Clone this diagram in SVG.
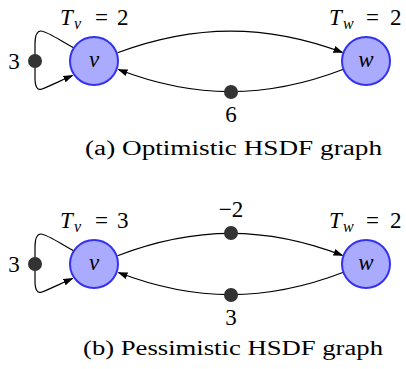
<svg xmlns="http://www.w3.org/2000/svg" width="406" height="369" viewBox="0 0 406 369">
<style>
.node{fill:#aaaaff;stroke:#3333ee;stroke-width:2}
.tok{fill:#333333}
.edge{fill:none;stroke:#000;stroke-width:1.2}
text{font-family:"Liberation Serif","Times New Roman",serif;fill:#000;font-size:23px}
.it{font-style:italic}
.sub{font-style:italic;font-size:16px}
.cap{font-size:20px}
</style>
<defs>
<marker id="arr" markerWidth="10" markerHeight="8" refX="9" refY="4" orient="auto" markerUnits="userSpaceOnUse">
<path d="M0,0.5 L10,4 L0,7.5 Z" fill="#000"/>
</marker>
</defs>
<rect width="406" height="369" fill="#fff"/>
<g id="connectors">
<path class="edge" d="M117.5,52.8 C195,24 266,24 342.5,52.5" marker-end="url(#arr)"/>
<path class="edge" d="M343.5,69.2 C266,99 195,99 118.5,69.5" marker-end="url(#arr)"/>
<path class="edge" d="M74,48 C58,39 46,31 41,31 C37,31 35,36 35,44 L35,78 C35,86 37,91 42,89 C50,86 60,81 72.5,75.5" marker-end="url(#arr)"/>
<path class="edge" d="M117.5,255.8 C195,226 266,226 342.5,255.5" marker-end="url(#arr)"/>
<path class="edge" d="M343.5,272.2 C266,302 195,302 118.5,272.5" marker-end="url(#arr)"/>
<path class="edge" d="M74,251 C58,242 46,234 41,234 C37,234 35,239 35,247 L35,281 C35,289 37,294 42,292 C50,289 60,284 72.5,278.5" marker-end="url(#arr)"/>
</g>
<g id="graph-a">
<g id="a-v"><circle class="node" cx="94" cy="61" r="24"/><text class="it" x="94" y="67" text-anchor="middle">v</text></g>
<g id="a-w"><circle class="node" cx="366" cy="61" r="24"/><text class="it" x="366" y="67" text-anchor="middle">w</text></g>
<g id="a-tv"><text class="it" x="60" y="25">T</text><text class="sub" x="74" y="29">v</text><text x="95" y="25">=</text><text x="117" y="25">2</text></g>
<g id="a-tw"><text class="it" x="329" y="25">T</text><text class="sub" x="343" y="29">w</text><text x="366" y="25">=</text><text x="390" y="25">2</text></g>
<g id="a-loop-tok"><circle class="tok" cx="35" cy="61" r="7"/><text x="14" y="69" text-anchor="middle">3</text></g>
<g id="a-back-tok"><circle class="tok" cx="231" cy="92" r="7"/><text x="231" y="122" text-anchor="middle">6</text></g>
<text class="cap" x="85" y="155" textLength="297" lengthAdjust="spacingAndGlyphs">(a) Optimistic HSDF graph</text>
</g>
<g id="graph-b">
<g id="b-v"><circle class="node" cx="94" cy="264" r="24"/><text class="it" x="94" y="270" text-anchor="middle">v</text></g>
<g id="b-w"><circle class="node" cx="366" cy="264" r="24"/><text class="it" x="366" y="270" text-anchor="middle">w</text></g>
<g id="b-tv"><text class="it" x="60" y="228">T</text><text class="sub" x="74" y="232">v</text><text x="95" y="228">=</text><text x="117" y="228">3</text></g>
<g id="b-tw"><text class="it" x="329" y="228">T</text><text class="sub" x="343" y="232">w</text><text x="366" y="228">=</text><text x="390" y="228">2</text></g>
<g id="b-loop-tok"><circle class="tok" cx="35" cy="264" r="7"/><text x="14" y="272" text-anchor="middle">3</text></g>
<g id="b-fwd-tok"><circle class="tok" cx="231" cy="233" r="7"/><text x="231" y="217" text-anchor="middle">−2</text></g>
<g id="b-back-tok"><circle class="tok" cx="231" cy="295" r="7"/><text x="231" y="325" text-anchor="middle">3</text></g>
<text class="cap" x="83" y="355" textLength="300" lengthAdjust="spacingAndGlyphs">(b) Pessimistic HSDF graph</text>
</g>
</svg>
